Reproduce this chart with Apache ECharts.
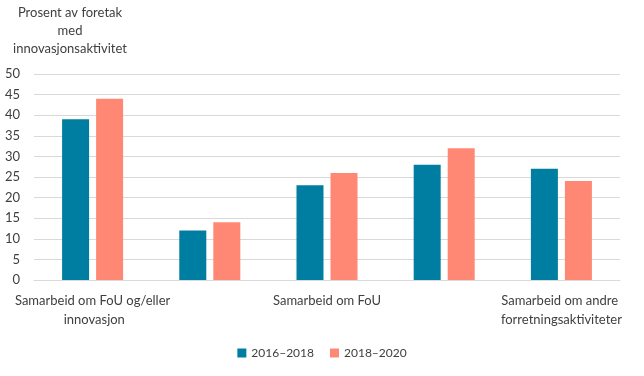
<!DOCTYPE html>
<html>
<head>
<meta charset="utf-8">
<script src="https://cdn.jsdelivr.net/npm/echarts@6/dist/echarts.min.js"></script>
<style>
  html, body { margin: 0; padding: 0; background: #fff; }
  #chart { width: 644px; height: 376px; }
</style>
</head>
<body>
<div id="chart"></div>
<script>
// kategorier (2. og 4. etikett skjules på aksen, som i originalen)
var categories = [
	'Samarbeid om FoU og/eller innovasjon',
	'Samarbeid om innovasjon uten FoU',
	'Samarbeid om FoU',
	'Samarbeid om innovasjon',
	'Samarbeid om andre forretningsaktiviteter'
];
var seriesNames = ['2016–2018', '2018–2020'];
var values2016 = [39, 12, 23, 28, 27];
var values2018 = [44, 14, 26, 32, 24];
var yTicks = [0, 5, 10, 15, 20, 25, 30, 35, 40, 45, 50];

var font = 'Lato, "Open Sans", sans-serif';
var myChart = echarts.init(document.getElementById('chart'));

var option = {
	animation: false,
	textStyle: { fontFamily: font },
	grid: {
		left: 34,
		right: 24,
		top: 74,
		bottom: 96,
		outerBoundsMode: 'none',
		containLabel: false
	},
	legend: {
		bottom: 12,
		left: 'center',
		itemWidth: 9,
		itemHeight: 9,
		itemGap: 16,
		icon: 'rect',
		textStyle: { fontSize: 12, color: '#404040', fontFamily: font },
		data: seriesNames
	},
	xAxis: {
		type: 'category',
		data: categories,
		axisTick: { show: false },
		axisLine: { lineStyle: { color: '#d9d9d9' } },
		axisLabel: {
			interval: 1,
			color: '#404040',
			fontSize: 13,
			lineHeight: 19,
			margin: 11,
			width: 160,
			overflow: 'break'
		}
	},
	yAxis: {
		type: 'value',
		min: yTicks[0],
		max: yTicks[yTicks.length - 1],
		interval: 5,
		name: 'Prosent av foretak\nmed\ninnovasjonsaktivitet',
		nameLocation: 'end',
		nameGap: 16,
		nameTextStyle: {
			align: 'center',
			color: '#404040',
			fontSize: 13,
			lineHeight: 18,
			padding: [0, 0, 0, 72]
		},
		axisLine: { show: false },
		axisTick: { show: false },
		splitLine: { lineStyle: { color: '#d9d9d9' } },
		axisLabel: { color: '#404040', fontSize: 13, margin: 14 }
	},
	series: [
		{
			name: seriesNames[0],
			type: 'bar',
			data: values2016,
			barWidth: 27,
			barGap: '26%',
			itemStyle: { color: '#007EA1' }
		},
		{
			name: seriesNames[1],
			type: 'bar',
			data: values2018,
			barWidth: 27,
			itemStyle: { color: '#FF8874' }
		}
	]
};

myChart.setOption(option);
</script>
</body>
</html>
